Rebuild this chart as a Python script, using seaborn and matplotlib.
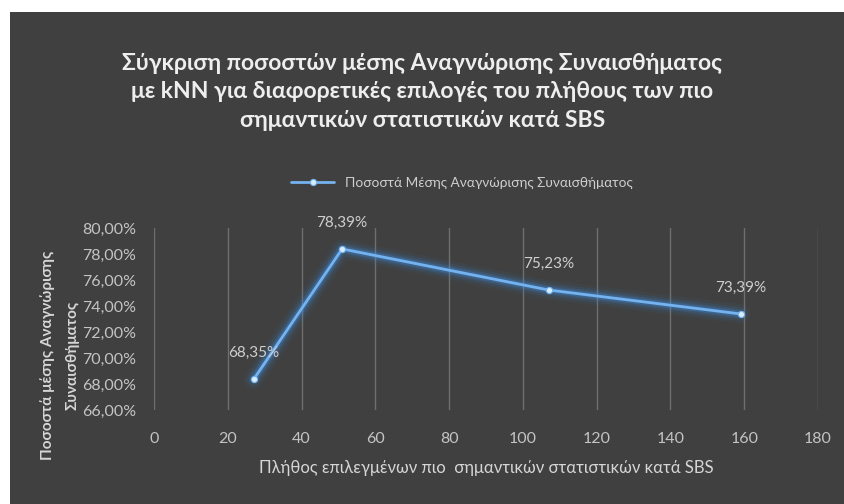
import matplotlib
matplotlib.use("Agg")
import matplotlib.pyplot as plt
import matplotlib.patches as mpatches
from matplotlib.ticker import FuncFormatter, MultipleLocator
import seaborn as sns
import pandas as pd

# Number of most significant statistics kept by SBS, and the mean recognition rate
n_features = [27, 51, 107, 159]
recognition = [68.35, 78.39, 75.23, 73.39]
series_name = "Ποσοστά Μέσης Αναγνώρισης Συναισθήματος"

title = ("Σύγκριση ποσοστών μέσης Αναγνώρισης Συναισθήματος\n"
         "με kNN για διαφορετικές επιλογές του πλήθους των πιο\n"
         "σημαντικών στατιστικών κατά SBS")
xlabel = "Πλήθος επιλεγμένων πιο  σημαντικών στατιστικών κατά SBS"
ylabel = "Ποσοστά μέσης Αναγνώρισης\nΣυναισθήματος"

df = pd.DataFrame({"n": n_features, "rate": recognition})

sns.set_theme(style="dark")
plt.rcParams["font.family"] = ["Lato", "DejaVu Sans"]

BG = "#404040"
TXT = "#d6d6d6"
LINE = "#74b3f0"

fig = plt.figure(figsize=(8.45, 5.04), dpi=100, facecolor="white")
# dark chart area inside a thin white margin
fig.patches.append(mpatches.Rectangle((10 / 845, 0), 1 - 10 / 845, 1 - 12 / 504,
                                      transform=fig.transFigure, facecolor=BG,
                                      edgecolor="none", zorder=-10))

ax = fig.add_axes([154 / 845, 1 - 410 / 504, (818 - 154) / 845, (410 - 228) / 504])
ax.set_facecolor(BG)
ax.patch.set_alpha(0)

# soft glow under the line
for lw, a in [(14, 0.05), (10, 0.09), (7, 0.15), (4.5, 0.28)]:
    sns.lineplot(data=df, x="n", y="rate", ax=ax, color="#3d8fe8", linewidth=lw,
                 alpha=a, legend=False, solid_capstyle="round", zorder=2)
sns.lineplot(data=df, x="n", y="rate", ax=ax, color=LINE, linewidth=2.0,
             marker="o", markersize=4.5, markerfacecolor="#d8ecff",
             markeredgecolor=LINE, markeredgewidth=0.8, label=series_name, zorder=3)

for xv, yv in zip(n_features, recognition):
    ax.annotate(f"{yv:.2f}%".replace(".", ","), (xv, yv), xytext=(0, 14),
                textcoords="offset points", ha="center", va="bottom",
                color="#cfcfcf", fontsize=11)

ax.set_xlim(0, 180)
ax.set_ylim(66, 80)
ax.xaxis.set_major_locator(MultipleLocator(20))
ax.yaxis.set_major_locator(MultipleLocator(2))
ax.yaxis.set_major_formatter(FuncFormatter(lambda v, p: f"{v:.2f}%".replace(".", ",")))
ax.grid(axis="x", color="#6e6e6e", linewidth=1.0)
ax.grid(axis="y", visible=False)
for s in ax.spines.values():
    s.set_visible(False)
ax.tick_params(axis="both", colors="#c4c4c4", labelsize=11.5, length=0)
ax.tick_params(axis="x", pad=16)
ax.tick_params(axis="y", pad=13)

ax.set_xlabel(xlabel, color=TXT, fontsize=12, labelpad=10)
ax.set_ylabel(ylabel, color=TXT, fontsize=11, fontweight="bold", linespacing=2.0)
ax.yaxis.set_label_coords(-0.112, 0.30)

leg = ax.legend(loc="center", bbox_to_anchor=(462 / 845, 1 - 183 / 504),
                bbox_transform=fig.transFigure, frameon=False, fontsize=9.8,
                labelcolor="#cfcfcf", handlelength=3.2)

fig.text(0.5, 1 - 92 / 504, title, ha="center", va="center", color="#eeeeee",
         fontsize=16.5, fontweight="bold", linespacing=1.45)

fig.savefig("out.png", dpi=100, facecolor="white")
